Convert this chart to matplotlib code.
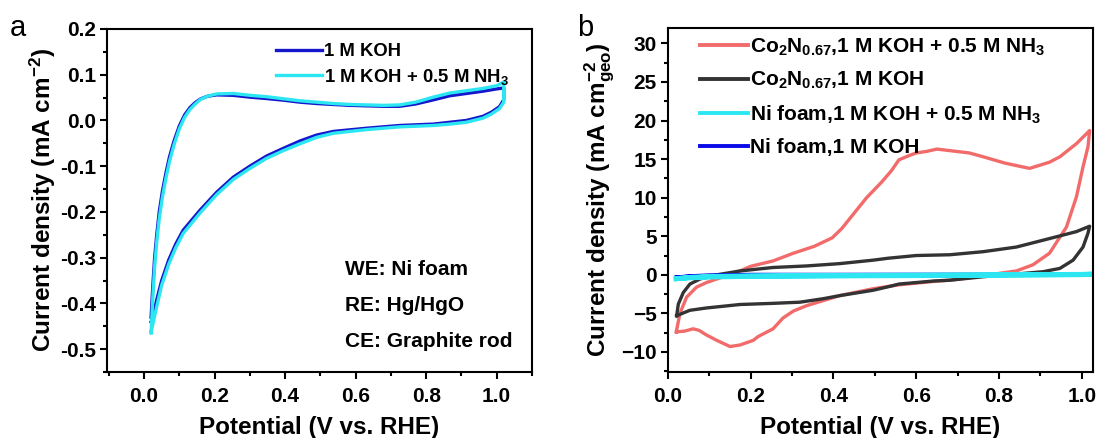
import matplotlib
matplotlib.use("Agg")
import matplotlib.pyplot as plt
from matplotlib.ticker import MultipleLocator

plt.rcParams['font.family'] = ['Liberation Sans', 'DejaVu Sans']
plt.rcParams['font.weight'] = 'bold'
plt.rcParams['mathtext.fontset'] = 'custom'
plt.rcParams['mathtext.rm'] = 'Liberation Sans:bold'
plt.rcParams['mathtext.it'] = 'Liberation Sans:bold'
plt.rcParams['mathtext.bf'] = 'Liberation Sans:bold'
plt.rcParams['mathtext.default'] = 'rm'

# ---------- DATA: panel a (Ni foam) ----------
# anodic (upper) branch, 0.02 -> 1.02 V
koh_up_v = [0.020, 0.025, 0.030, 0.036, 0.043, 0.052, 0.062, 0.072, 0.085, 0.100,
            0.115, 0.130, 0.145, 0.160, 0.180, 0.206, 0.253, 0.300, 0.347, 0.400,
            0.442, 0.490, 0.537, 0.585, 0.631, 0.680, 0.725, 0.770, 0.820, 0.867,
            0.914, 0.961, 1.000, 1.020]
koh_up_j = [-0.430, -0.360, -0.300, -0.250, -0.200, -0.155, -0.115, -0.080, -0.045, -0.012,
            0.012, 0.028, 0.039, 0.047, 0.053, 0.056, 0.055, 0.051, 0.048, 0.044,
            0.040, 0.037, 0.035, 0.033, 0.032, 0.031, 0.031, 0.036, 0.045, 0.054,
            0.059, 0.064, 0.069, 0.071]
# cathodic (lower) branch, 1.02 -> 0.02 V
koh_dn_v = [1.020, 1.008, 0.985, 0.961, 0.914, 0.867, 0.820, 0.725, 0.631, 0.537,
            0.489, 0.442, 0.395, 0.347, 0.300, 0.253, 0.206, 0.159, 0.111, 0.090,
            0.070, 0.050, 0.035, 0.025, 0.020]
koh_dn_j = [0.045, 0.030, 0.018, 0.009, 0.000, -0.004, -0.008, -0.011, -0.017, -0.024,
            -0.032, -0.045, -0.061, -0.078, -0.100, -0.124, -0.157, -0.196, -0.240, -0.270,
            -0.305, -0.350, -0.395, -0.430, -0.440]

nh3_up_v = [0.020, 0.025, 0.030, 0.036, 0.043, 0.052, 0.062, 0.072, 0.085, 0.100,
            0.115, 0.130, 0.145, 0.160, 0.180, 0.206, 0.253, 0.300, 0.347, 0.400,
            0.442, 0.490, 0.537, 0.585, 0.631, 0.680, 0.725, 0.770, 0.820, 0.867,
            0.914, 0.961, 1.000, 1.020]
nh3_up_j = [-0.465, -0.385, -0.320, -0.265, -0.215, -0.168, -0.126, -0.090, -0.053, -0.018,
            0.007, 0.024, 0.036, 0.046, 0.053, 0.058, 0.059, 0.055, 0.052, 0.047,
            0.043, 0.040, 0.037, 0.035, 0.034, 0.033, 0.034, 0.040, 0.051, 0.060,
            0.065, 0.070, 0.076, 0.084]
nh3_dn_v = [1.020, 1.008, 0.985, 0.961, 0.914, 0.867, 0.820, 0.725, 0.631, 0.537,
            0.489, 0.442, 0.395, 0.347, 0.300, 0.253, 0.206, 0.159, 0.111, 0.090,
            0.070, 0.050, 0.035, 0.025, 0.020]
nh3_dn_j = [0.040, 0.026, 0.014, 0.005, -0.004, -0.008, -0.011, -0.014, -0.020, -0.028,
            -0.037, -0.051, -0.066, -0.083, -0.105, -0.129, -0.162, -0.202, -0.247, -0.278,
            -0.314, -0.360, -0.410, -0.445, -0.462]

# ---------- DATA: panel b ----------
co_nh3_up_v = [0.020, 0.029, 0.045, 0.069, 0.093, 0.126, 0.174, 0.200, 0.254, 0.303,
               0.354, 0.397, 0.420, 0.450, 0.480, 0.516, 0.540, 0.558, 0.580, 0.600,
               0.625, 0.650, 0.681, 0.728, 0.762, 0.813, 0.856, 0.874, 0.898, 0.922,
               0.947, 0.987, 1.019]
co_nh3_up_j = [-7.4, -5.0, -2.9, -1.6, -1.0, -0.4, 0.5, 1.1, 1.8, 2.8,
               3.7, 4.8, 6.0, 8.0, 10.0, 12.0, 13.5, 14.9, 15.4, 15.8,
               16.0, 16.3, 16.1, 15.8, 15.3, 14.5, 14.0, 13.8, 14.2, 14.6,
               15.3, 17.0, 18.7]
co_nh3_dn_v = [1.019, 1.015, 1.003, 0.987, 0.963, 0.922, 0.882, 0.842, 0.802, 0.728,
               0.681, 0.643, 0.558, 0.496, 0.415, 0.335, 0.303, 0.278, 0.254, 0.218,
               0.206, 0.174, 0.150, 0.118, 0.093, 0.075, 0.061, 0.040, 0.021]
co_nh3_dn_j = [18.7, 16.6, 14.0, 10.1, 6.2, 2.8, 1.3, 0.5, 0.2, -0.4,
               -0.7, -0.85, -1.3, -1.8, -2.7, -4.0, -4.7, -5.6, -7.0, -8.0,
               -8.5, -9.1, -9.3, -8.5, -7.8, -7.2, -7.0, -7.3, -7.4]

co_koh_up_v = [0.021, 0.025, 0.037, 0.053, 0.077, 0.118, 0.174, 0.254, 0.335, 0.415,
               0.496, 0.532, 0.600, 0.681, 0.762, 0.842, 0.922, 0.987, 1.019]
co_koh_up_j = [-5.3, -3.8, -2.3, -1.2, -0.55, 0.0, 0.5, 0.95, 1.15, 1.45,
               1.9, 2.15, 2.5, 2.6, 3.0, 3.6, 4.7, 5.6, 6.3]
co_koh_dn_v = [1.019, 1.015, 1.003, 0.979, 0.947, 0.906, 0.842, 0.762, 0.681, 0.643,
               0.558, 0.536, 0.496, 0.415, 0.375, 0.319, 0.254, 0.174, 0.093, 0.053,
               0.021]
co_koh_dn_j = [6.3, 5.4, 3.6, 1.9, 0.83, 0.4, 0.1, -0.25, -0.7, -0.8,
               -1.2, -1.5, -2.0, -2.7, -3.1, -3.55, -3.7, -3.85, -4.3, -4.6,
               -5.3]

ni_nh3_v = [0.020, 0.050, 0.100, 0.200, 0.400, 0.600, 0.800, 1.000, 1.025,
            1.000, 0.800, 0.600, 0.400, 0.200, 0.100, 0.050, 0.020]
ni_nh3_j = [-0.50, -0.35, -0.22, -0.15, -0.10, -0.05, 0.00, 0.05, 0.08,
            0.02, -0.05, -0.10, -0.14, -0.20, -0.28, -0.40, -0.50]
ni_koh_v = [0.020, 0.050, 0.100, 0.200, 0.400, 0.600, 0.800, 1.000, 1.025,
            1.000, 0.800, 0.600, 0.400, 0.200, 0.100, 0.050, 0.020]
ni_koh_j = [-0.30, -0.15, -0.02, 0.05, 0.05, 0.06, 0.07, 0.09, 0.10,
            0.04, 0.00, -0.02, -0.04, -0.08, -0.12, -0.20, -0.30]

labels_a = ['1 M KOH', '1 M KOH + 0.5 M NH$_3$']
labels_b = ['Co$_2$N$_{0.67}$,1 M KOH + 0.5 M NH$_3$', 'Co$_2$N$_{0.67}$,1 M KOH',
            'Ni foam,1 M KOH + 0.5 M NH$_3$', 'Ni foam,1 M KOH']
electrodes = ['WE: Ni foam', 'RE: Hg/HgO', 'CE: Graphite rod']

BLUE = '#1616cc'
CYAN = '#2ce6f2'
RED = '#f26b6b'
DARK = '#333333'

fig = plt.figure(figsize=(10.99, 4.38), dpi=100)
ax1 = fig.add_axes([0.0974, 0.1507, 0.3866, 0.7831])
ax2 = fig.add_axes([0.6078, 0.1507, 0.3867, 0.7854])


def style(ax):
    for s in ax.spines.values():
        s.set_linewidth(1.5)
    ax.tick_params(which='both', direction='out', width=1.5, labelsize=15,
                   top=False, right=False)
    ax.tick_params(which='major', length=5)
    ax.tick_params(axis='x', which='major', pad=6)
    ax.tick_params(axis='y', which='major', pad=3)
    ax.tick_params(which='minor', length=3)
    for lab in ax.get_xticklabels() + ax.get_yticklabels():
        lab.set_fontweight('bold')


# ---------- PANEL A ----------
ax1.plot(koh_up_v + koh_dn_v, koh_up_j + koh_dn_j, color=BLUE, lw=2.4, label=labels_a[0])
ax1.plot(nh3_up_v + nh3_dn_v, nh3_up_j + nh3_dn_j, color=CYAN, lw=2.4, label=labels_a[1])
ax1.set_xlim(-0.105, 1.1)
ax1.set_ylim(-0.55, 0.2)
ax1.xaxis.set_minor_locator(MultipleLocator(0.1))
ax1.yaxis.set_minor_locator(MultipleLocator(0.05))
ax1.set_xticks([0.0, 0.2, 0.4, 0.6, 0.8, 1.0])
ax1.set_xticklabels(['0.0', '0.2', '0.4', '0.6', '0.8', '1.0'])
ax1.set_yticks([0.2, 0.1, 0.0, -0.1, -0.2, -0.3, -0.4, -0.5])
ax1.set_yticklabels(['0.2', '0.1', '0.0', '-0.1', '-0.2', '-0.3', '-0.4', '-0.5'])
style(ax1)
ax1.set_xlabel('Potential (V vs. RHE)', fontsize=17.5, fontweight='bold', labelpad=7)
ax1.set_ylabel('Current density (mA cm$^{-2}$)', fontsize=17.5, fontweight='bold', labelpad=1)
ax1.legend(loc='upper left', bbox_to_anchor=(0.375, 0.985), frameon=False, fontsize=13.3,
           handlelength=2.5, handletextpad=0.1, labelspacing=0.35, borderpad=0.0)
for i, t in enumerate(electrodes):
    ax1.text(0.57, -0.325 - 0.079 * i, t, fontsize=15, fontweight='bold', va='center')
fig.text(0.009, 0.935, 'a', fontsize=21, fontweight='normal', va='center')

# ---------- PANEL B ----------
ax2.plot(co_nh3_up_v + co_nh3_dn_v, co_nh3_up_j + co_nh3_dn_j, color=RED, lw=2.4, label=labels_b[0])
ax2.plot(co_koh_up_v + co_koh_dn_v, co_koh_up_j + co_koh_dn_j, color=DARK, lw=2.4, label=labels_b[1])
ax2.plot(ni_koh_v, ni_koh_j, color='#0a0ae6', lw=2.4, label=labels_b[3])
ax2.plot(ni_nh3_v, ni_nh3_j, color=CYAN, lw=3.6, label=labels_b[2])
ax2.set_xlim(0.0, 1.027)
ax2.set_ylim(-12.6, 32)
ax2.xaxis.set_minor_locator(MultipleLocator(0.1))
ax2.yaxis.set_minor_locator(MultipleLocator(2.5))
ax2.set_xticks([0.0, 0.2, 0.4, 0.6, 0.8, 1.0])
ax2.set_xticklabels(['0.0', '0.2', '0.4', '0.6', '0.8', '1.0'])
ax2.set_yticks([30, 25, 20, 15, 10, 5, 0, -5, -10])
style(ax2)
ax2.set_xlabel('Potential (V vs. RHE)', fontsize=17.5, fontweight='bold', labelpad=7)
ax2.set_ylabel('Current density (mA cm$_{geo}^{-2}$)', fontsize=17.5, fontweight='bold', labelpad=3)
h, l = ax2.get_legend_handles_labels()
order = [0, 1, 3, 2]
leg = ax2.legend([h[i] for i in order], [l[i] for i in order], loc='upper left',
                 bbox_to_anchor=(0.05, 1.005), frameon=False, fontsize=15,
                 handlelength=2.3, handletextpad=0.1, labelspacing=0.58, borderpad=0.0)
for lh in leg.get_lines():
    lh.set_linewidth(2.8)
fig.text(0.525, 0.935, 'b', fontsize=21, fontweight='normal', va='center')

fig.savefig('out.png', dpi=100)
